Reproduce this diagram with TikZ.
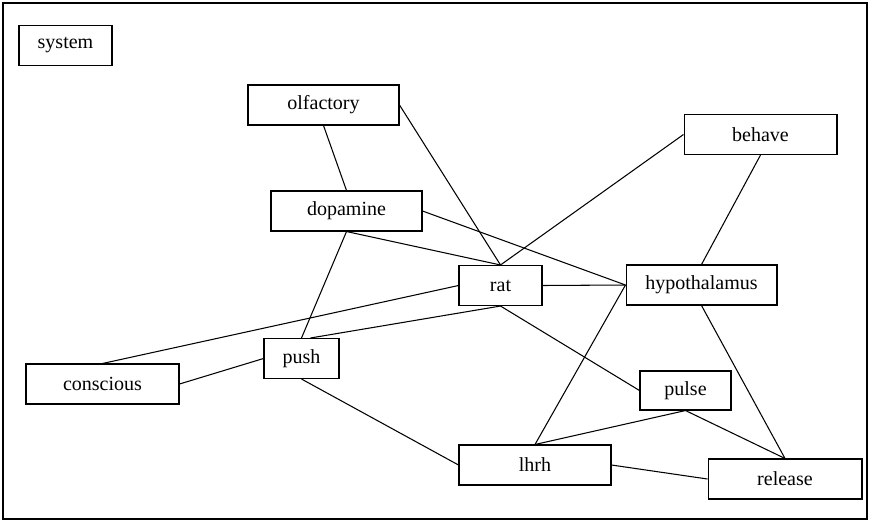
\documentclass[tikz,border=0pt]{standalone}
\usepackage{fontspec}
\setmainfont{Liberation Serif}
\usepackage{tikz}

\begin{document}
\begin{tikzpicture}[x=0.02cm,y=-0.02cm,
  box/.style={draw,line width=0.6pt,minimum height=0.8cm,inner sep=0pt,font=\fontsize{11.4}{13}\selectfont},
  link/.style={line width=0.6pt}]
\useasboundingbox (0,0) rectangle (871,521);
\draw[line width=0.8pt] (3,3) rectangle (867,519);
\node[box,minimum width=1.86cm] (system) at (65.5,45.5) {system};
\node[box,minimum width=3.02cm] (olfactory) at (323.5,105) {olfactory};
\node[box,minimum width=3.02cm] (dopamine) at (346.5,211) {dopamine};
\node[box,minimum width=3.06cm] (behave) at (760.5,134.5) {behave};
\node[box,minimum width=1.66cm] (rat) at (500.5,285.5) {rat};
\node[box,minimum width=3.02cm] (hypothalamus) at (701.5,285) {hypothalamus};
\node[box,minimum width=3.06cm] (conscious) at (102.5,384) {conscious};
\node[box,minimum width=1.5cm] (push) at (301.5,358.5) {push};
\node[box,minimum width=1.82cm,minimum height=0.78cm] (pulse) at (685.5,390.5) {pulse};
\node[box,minimum width=3.04cm] (lhrh) at (535,465) {lhrh};
\node[box,minimum width=3.08cm] (release) at (785,479) {release};
\draw[link] (olfactory.south) -- (dopamine.north);
\draw[link] (olfactory.east) -- (rat.north);
\draw[link] (dopamine.south) -- (rat.north);
\draw[link] (dopamine.east) -- (hypothalamus.west);
\draw[link] (dopamine.south) -- (push.north);
\draw[link] (rat.north) -- (behave.west);
\draw[link] (rat.east) -- (hypothalamus.west);
\draw[link] (rat.west) -- (conscious.north);
\draw[link] (rat.south) -- ([xshift=0.18cm]push.north);
\draw[link] (conscious.east) -- (push.west);
\draw[link] (push.south) -- (lhrh.west);
\draw[link] (rat.south) -- (pulse.west);
\draw[link] (behave.south) -- (hypothalamus.north);
\draw[link] (hypothalamus.west) -- (lhrh.north);
\draw[link] (hypothalamus.south) -- (release.north);
\draw[link] (pulse.south) -- (lhrh.north);
\draw[link] (pulse.south) -- (release.north);
\draw[link] (lhrh.east) -- (release.west);
\end{tikzpicture}
\end{document}
